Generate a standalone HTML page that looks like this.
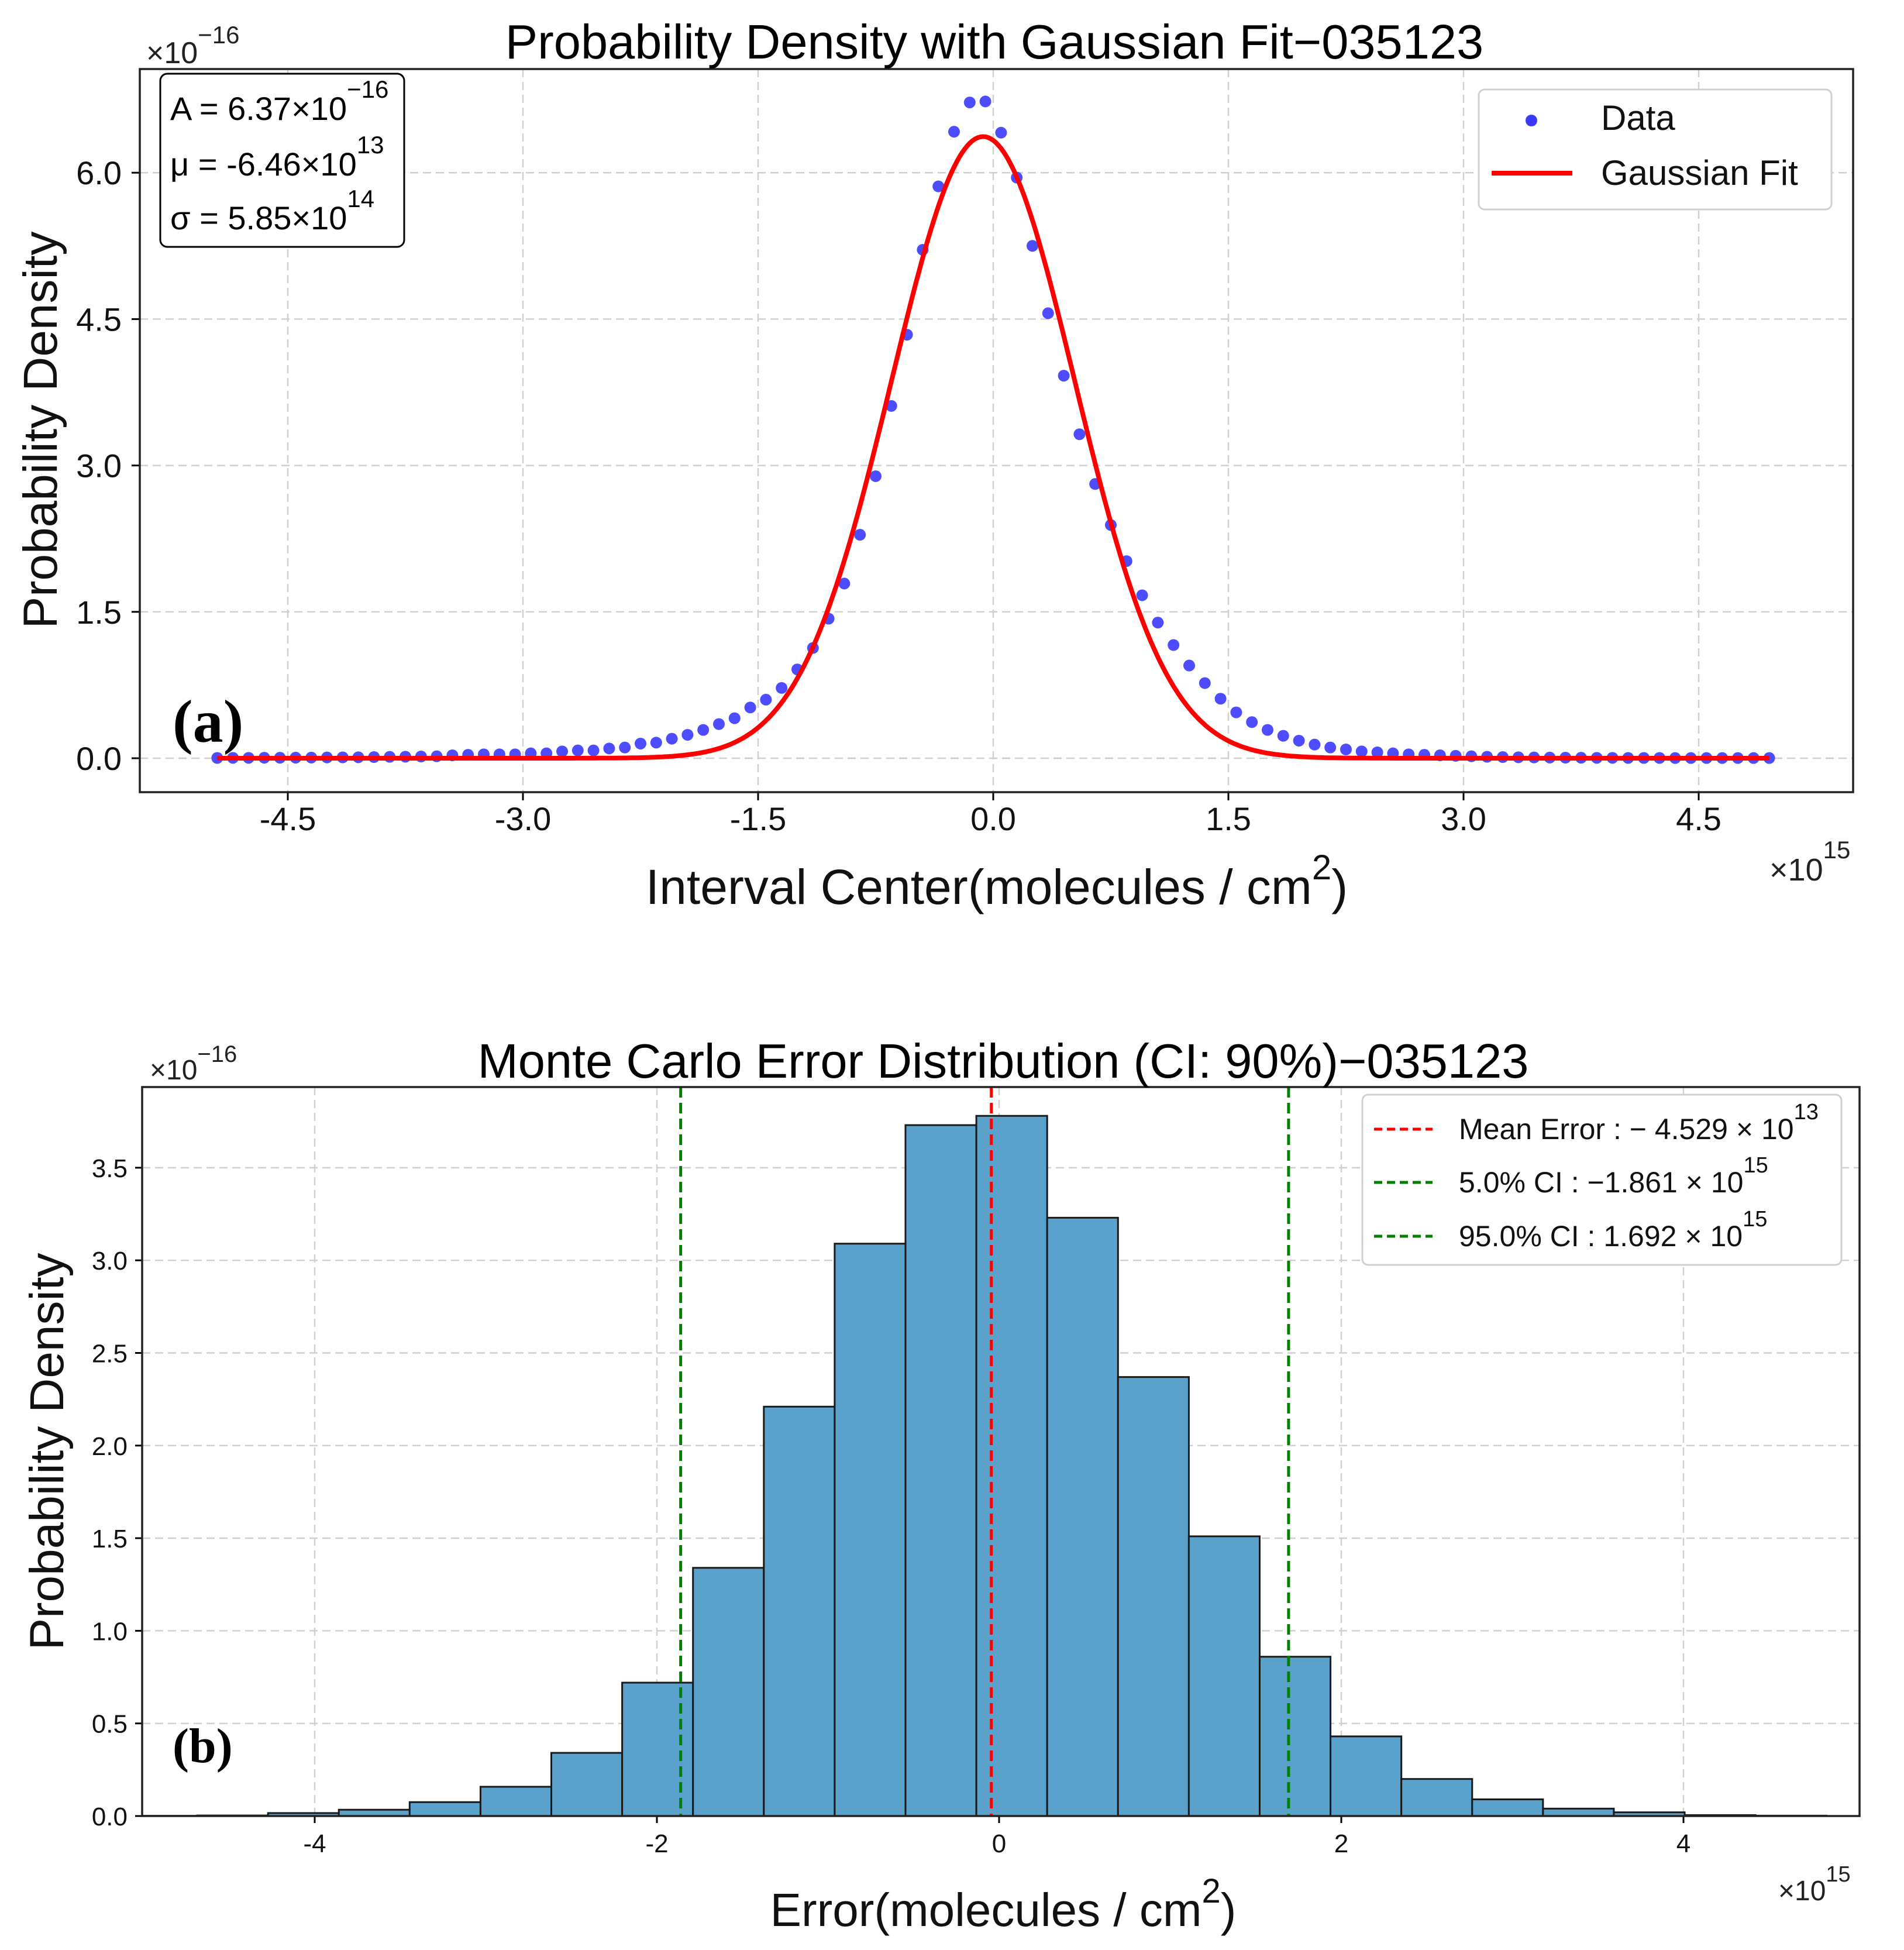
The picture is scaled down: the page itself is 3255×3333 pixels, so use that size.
<!DOCTYPE html>
<html><head><meta charset="utf-8">
<style>
html,body{margin:0;padding:0;background:#fff;}
svg{display:block;font-family:"Liberation Sans",Arial,sans-serif;}
</style></head>
<body>
<svg id="chart" width="3255" height="3333" viewBox="0 0 3255 3333" xmlns="http://www.w3.org/2000/svg">
<rect x="0" y="0" width="3255" height="3333" fill="#fff"/>
<g id="top"></g>
<g id="bot"></g>
</svg>
<script>
// ---- Panel (a) data ----
const aCenters = [-4.95,-4.85,-4.75,-4.65,-4.55,-4.45,-4.35,-4.25,-4.15,-4.05,-3.95,-3.85,-3.75,-3.65,-3.55,-3.45,-3.35,-3.25,-3.15,-3.05,-2.95,-2.85,-2.75,-2.65,-2.55,-2.45,-2.35,-2.25,-2.15,-2.05,-1.95,-1.85,-1.75,-1.65,-1.55,-1.45,-1.35,-1.25,-1.15,-1.05,-0.95,-0.85,-0.75,-0.65,-0.55,-0.45,-0.35,-0.25,-0.15,-0.05,0.05,0.15,0.25,0.35,0.45,0.55,0.65,0.75,0.85,0.95,1.05,1.15,1.25,1.35,1.45,1.55,1.65,1.75,1.85,1.95,2.05,2.15,2.25,2.35,2.45,2.55,2.65,2.75,2.85,2.95,3.05,3.15,3.25,3.35,3.45,3.55,3.65,3.75,3.85,3.95,4.05,4.15,4.25,4.35,4.45,4.55,4.65,4.75,4.85,4.95];
const aDensity = [0.003,0.004,0.004,0.005,0.005,0.006,0.007,0.008,0.009,0.01,0.012,0.014,0.016,0.018,0.02,0.03,0.035,0.04,0.04,0.04,0.05,0.05,0.07,0.08,0.08,0.10,0.11,0.15,0.16,0.20,0.24,0.29,0.35,0.41,0.52,0.60,0.72,0.91,1.13,1.43,1.79,2.29,2.89,3.61,4.34,5.21,5.86,6.42,6.72,6.73,6.41,5.95,5.25,4.56,3.92,3.32,2.81,2.39,2.02,1.67,1.39,1.16,0.95,0.77,0.61,0.47,0.37,0.29,0.23,0.18,0.14,0.11,0.09,0.07,0.06,0.05,0.04,0.035,0.03,0.025,0.02,0.015,0.012,0.01,0.008,0.007,0.006,0.005,0.004,0.004,0.003,0.003,0.003,0.002,0.002,0.002,0.002,0.002,0.002,0.002];
const fitA = 6.37, fitMu = -0.0646, fitSigma = 0.585;
const aXTicks = [-4.5,-3.0,-1.5,0.0,1.5,3.0,4.5];
const aXTickLabels = ["-4.5","-3.0","-1.5","0.0","1.5","3.0","4.5"];
const aYTicks = [0,1.5,3.0,4.5,6.0];
const aYTickLabels = ["0.0","1.5","3.0","4.5","6.0"];

// ---- Panel (b) data ----
const bEdgeStart = -5.101, bBinWidth = 0.414;
const bHeights = [0.001,0.003,0.016,0.034,0.075,0.158,0.341,0.72,1.34,2.21,3.09,3.73,3.78,3.23,2.37,1.51,0.86,0.43,0.20,0.09,0.04,0.02,0.005,0.002];
const bMean = -0.04529, bCILow = -1.861, bCIHigh = 1.692;
const bXTicks = [-4,-2,0,2,4];
const bXTickLabels = ["-4","-2","0","2","4"];
const bYTicks = [0,0.5,1.0,1.5,2.0,2.5,3.0,3.5];
const bYTickLabels = ["0.0","0.5","1.0","1.5","2.0","2.5","3.0","3.5"];

const NS="http://www.w3.org/2000/svg";
function mk(parent,tag,attrs,text){const e=document.createElementNS(NS,tag);for(const k in attrs)e.setAttribute(k,attrs[k]);if(text!==undefined)e.textContent=text;parent.appendChild(e);return e;}

// ===== Panel (a) =====
const T=document.getElementById('top');
const aL=239,aR=3168,aT=118,aB=1354;
const ax=v=>1698+v*268;
const ay=v=>1296-v*166.8;
aXTicks.forEach((t,i)=>{
  const g=mk(T,'line',{x1:ax(t),x2:ax(t),y1:aT,y2:aB,stroke:'#d0d0d0','stroke-width':2.5,'stroke-dasharray':'14 8'});
  
  
  const tk=mk(T,'line',{x1:ax(t),x2:ax(t),y1:aB,y2:aB+14,stroke:'#000','stroke-width':3});
  
  
  const lb=mk(T,'text',{x:ax(t),y:1419,'font-size':56,'text-anchor':'middle',fill:'#111'},aXTickLabels[i]);
  
  
});
aYTicks.forEach((t,i)=>{
  const g=mk(T,'line',{x1:aL,x2:aR,y1:ay(t),y2:ay(t),stroke:'#d0d0d0','stroke-width':2.5,'stroke-dasharray':'14 8'});
  
  
  const tk=mk(T,'line',{x1:aL-14,x2:aL,y1:ay(t),y2:ay(t),stroke:'#000','stroke-width':3});
  
  
  const lb=mk(T,'text',{x:208,y:ay(t)+20,'font-size':56,'text-anchor':'end',fill:'#111'},aYTickLabels[i]);
  
  
});
let d='';
for(let i=0;i<=600;i++){const x=-4.95+9.9*i/600;const y=fitA*Math.exp(-Math.pow(x-fitMu,2)/(2*fitSigma*fitSigma));d+=(i?'L':'M')+ax(x).toFixed(1)+' '+ay(y).toFixed(1);}
aCenters.forEach((c,i)=>{
  const p=mk(T,'circle',{cx:ax(c),cy:ay(aDensity[i]),r:10,fill:'#3a3aff','fill-opacity':0.9});
  
  
});
const fit=mk(T,'path',{d:d,fill:'none',stroke:'#ff0000','stroke-width':8,'stroke-linejoin':'round'});


const fa=mk(T,'rect',{x:aL,y:aT,width:aR-aL,height:aB-aT,fill:'none',stroke:'#222','stroke-width':3.5});


</script>

<script>
(function(){
const T=document.getElementById('top');
T.insertAdjacentHTML('beforeend',`
<text x="1700" y="100" font-size="83" text-anchor="middle" fill="#000">Probability Density with Gaussian Fit−035123</text>
<text x="250" y="108" font-size="52" fill="#222">×10<tspan dy="-34" font-size="42">−16</tspan></text>
<g>
<rect x="274" y="126" width="417" height="296" rx="12" fill="#fff" stroke="#000" stroke-width="3"/>
<text x="291" y="205" font-size="56" fill="#000">A = 6.37×10<tspan dy="-38" font-size="42">−16</tspan></text>
<text x="291" y="300" font-size="56" fill="#000">μ = -6.46×10<tspan dy="-38" font-size="42">13</tspan></text>
<text x="291" y="392" font-size="56" fill="#000">σ = 5.85×10<tspan dy="-38" font-size="42">14</tspan></text>
</g>
<g>
<rect x="2528" y="153" width="603" height="205" rx="10" fill="#fff" stroke="#d0d0d0" stroke-width="3"/>
<circle cx="2618" cy="206" r="10" fill="#3a3aff"/>
<text x="2737" y="222" font-size="60" fill="#111">Data</text>
<line x1="2550" x2="2688" y1="296" y2="296" stroke="#f00" stroke-width="8"/>
<text x="2737" y="316" font-size="60" fill="#111">Gaussian Fit</text>
</g>
<text x="295" y="1268" font-size="104" font-weight="bold" font-family="Liberation Serif, serif" fill="#000">(a)</text>
<text x="1704" y="1545" font-size="84" text-anchor="middle" fill="#111">Interval Center(molecules / cm<tspan dy="-42" font-size="60">2</tspan><tspan dy="42">)</tspan></text>
<text x="3025" y="1505" font-size="54" fill="#222">×10<tspan dy="-38" font-size="42">15</tspan></text>
<text transform="translate(97,735) rotate(-90)" font-size="82" text-anchor="middle" fill="#111">Probability Density</text>
`);
})();
</script>

<script>
(function(){
const B=document.getElementById('bot');
const bL=243,bR=3179,bT=1858,bB=3104;
const bx=v=>1708+v*292.5;
const by=v=>3104-v*316.6;
bXTicks.forEach((t,i)=>{
  const g=mk(B,'line',{x1:bx(t),x2:bx(t),y1:bT,y2:bB,stroke:'#d0d0d0','stroke-width':2.5,'stroke-dasharray':'14 8'});
  
  
  const tk=mk(B,'line',{x1:bx(t),x2:bx(t),y1:bB,y2:bB+12,stroke:'#000','stroke-width':3});
  
  
  const lb=mk(B,'text',{x:bx(t),y:3166,'font-size':44,'text-anchor':'middle',fill:'#111'},bXTickLabels[i]);
  
  
});
bYTicks.forEach((t,i)=>{
  const g=mk(B,'line',{x1:bL,x2:bR,y1:by(t),y2:by(t),stroke:'#d0d0d0','stroke-width':2.5,'stroke-dasharray':'14 8'});
  
  
  const tk=mk(B,'line',{x1:bL-12,x2:bL,y1:by(t),y2:by(t),stroke:'#000','stroke-width':3});
  
  
  const lb=mk(B,'text',{x:218,y:by(t)+16,'font-size':44,'text-anchor':'end',fill:'#111'},bYTickLabels[i]);
  
  
});
bHeights.forEach((h,i)=>{
  const x0=Math.max(bx(bEdgeStart+i*bBinWidth),bL), x1=bx(bEdgeStart+(i+1)*bBinWidth);
  const r=mk(B,'rect',{x:x0,y:by(h),width:x1-x0,height:bB-by(h),fill:'#5aa2cb',stroke:'#1a1a1a','stroke-width':3});
  
  
});
const vl=[[bMean,'#ff0000','mean-error-line'],[bCILow,'#008000','ci-5-line'],[bCIHigh,'#008000','ci-95-line']];
vl.forEach(v=>{
  const l=mk(B,'line',{x1:bx(v[0]),x2:bx(v[0]),y1:bT,y2:bB,stroke:v[1],'stroke-width':5,'stroke-dasharray':'18 9'});
  
  
});
const fb=mk(B,'rect',{x:bL,y:bT,width:bR-bL,height:bB-bT,fill:'none',stroke:'#222','stroke-width':3.5});


B.insertAdjacentHTML('beforeend',`
<text x="1715" y="1842" font-size="83" text-anchor="middle" fill="#000">Monte Carlo Error Distribution (CI: 90%)−035123</text>
<text x="256" y="1845" font-size="48" fill="#222">×10<tspan dy="-30" font-size="40">−16</tspan></text>
<g>
<rect x="2329" y="1871" width="819" height="291" rx="10" fill="#fff" stroke="#d0d0d0" stroke-width="3"/>
<line x1="2349" x2="2449" y1="1930" y2="1930" stroke="#f00" stroke-width="5" stroke-dasharray="14 8"/>
<text x="2494" y="1947" font-size="50" fill="#111">Mean Error : − 4.529 × 10<tspan dy="-34" font-size="38">13</tspan></text>
<line x1="2349" x2="2449" y1="2021" y2="2021" stroke="#008000" stroke-width="5" stroke-dasharray="14 8"/>
<text x="2494" y="2038" font-size="50" fill="#111">5.0% CI : −1.861 × 10<tspan dy="-34" font-size="38">15</tspan></text>
<line x1="2349" x2="2449" y1="2113" y2="2113" stroke="#008000" stroke-width="5" stroke-dasharray="14 8"/>
<text x="2494" y="2130" font-size="50" fill="#111">95.0% CI : 1.692 × 10<tspan dy="-34" font-size="38">15</tspan></text>
</g>
<text x="295" y="3012" font-size="84" font-weight="bold" font-family="Liberation Serif, serif" fill="#000">(b)</text>
<text x="1715" y="3292" font-size="80" text-anchor="middle" fill="#111">Error(molecules / cm<tspan dy="-40" font-size="58">2</tspan><tspan dy="40">)</tspan></text>
<text x="3040" y="3248" font-size="48" fill="#222">×10<tspan dy="-32" font-size="38">15</tspan></text>
<text transform="translate(108,2481) rotate(-90)" font-size="82" text-anchor="middle" fill="#111">Probability Density</text>
`);
})();
</script>
</body></html>
